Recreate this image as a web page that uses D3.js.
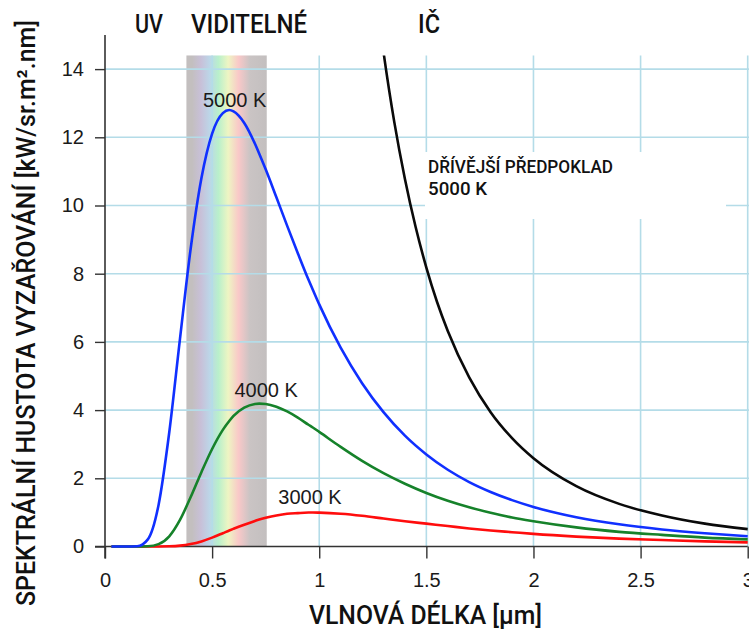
<!DOCTYPE html>
<html><head><meta charset="utf-8">
<script src="https://cdn.jsdelivr.net/npm/d3@7"></script>
<style>
html,body{margin:0;padding:0;background:#fff;}
svg{display:block;}
</style></head>
<body>
<svg id="chart" width="749" height="630"></svg>
<script>
// ---- data ----
const wavelengths = [0.03,0.1,0.15,0.2,0.25,0.3,0.35,0.4,0.45,0.5,0.55,0.58,0.6,0.65,0.7,0.72,0.75,0.8,0.85,0.9,0.95,0.97,1.0,1.1,1.2,1.3,1.4,1.5,1.6,1.7,1.8,1.9,2.0,2.2,2.4,2.6,2.8,3.0];
const t5000 = [0,0,0.007,0.21,1.22,3.35,6.09,8.74,10.80,12.11,12.71,12.80,12.76,12.42,11.81,11.52,11.06,10.24,9.41,8.60,7.82,7.53,7.10,5.83,4.79,3.94,3.25,2.70,2.25,1.89,1.60,1.36,1.16,0.86,0.65,0.50,0.39,0.30];
const t4000 = [0,0,0,0.006,0.069,0.30,0.78,1.45,2.18,2.86,3.42,3.68,3.83,4.07,4.18,4.19,4.18,4.10,3.96,3.78,3.57,3.49,3.36,2.92,2.51,2.15,1.84,1.57,1.34,1.15,0.99,0.85,0.74,0.56,0.43,0.34,0.26,0.21];
const t3000 = [0,0,0,0,0.0006,0.0056,0.025,0.072,0.15,0.26,0.39,0.47,0.52,0.64,0.75,0.79,0.84,0.91,0.96,0.98,0.995,0.996,0.992,0.96,0.90,0.82,0.74,0.67,0.60,0.53,0.47,0.42,0.37,0.29,0.23,0.19,0.15,0.12];
const rjWavelengths = [1.28,1.3,1.35,1.4,1.45,1.5,1.55,1.6,1.7,1.8,1.9,2.0,2.2,2.4,2.6,2.8,3.0];
const rj5000 = [15.42,14.50,12.46,10.78,9.37,8.18,7.17,6.32,4.96,3.94,3.18,2.59,1.77,1.25,0.91,0.67,0.51];

const xTicks = [0,0.5,1,1.5,2,2.5,3];
const xTickLabels = ["0","0.5","1","1.5","2","2.5","3"];
const yTicks = [0,2,4,6,8,10,12,14];
const yTickLabels = ["0","2","4","6","8","10","12","14"];
const visibleBand = [0.38, 0.755];
const plotTop = 14.4;

const regionLabels = ["UV","VIDITELNÉ","IČ"];
const curveLabels = ["5000 K","4000 K","3000 K"];
const xTitle = "VLNOVÁ DÉLKA [µm]";
const yTitle = "SPEKTRÁLNÍ HUSTOTA VYZAŘOVÁNÍ [kW/sr.m².nm]";
const noteLines = ["DŘÍVĚJŠÍ PŘEDPOKLAD","5000 K"];

// ---- scales ----
const svg = d3.select("#chart");
const x = d3.scaleLinear().domain([0,3]).range([105,747.7]);
const y = d3.scaleLinear().domain([0,15]).range([546.5,35]);

const condFont = "Roboto,'DejaVu Sans Condensed',sans-serif";
const condWeight = 500;
const sansFont = "'Liberation Sans',Arial,sans-serif";

// ---- visible spectrum band ----
const defs = svg.append("defs");
const grad = defs.append("linearGradient").attr("id","spec").attr("x1","0").attr("x2","1").attr("y1","0").attr("y2","0");
[[0,"#c3bfbf"],[0.07,"#c3bfbf"],[0.18,"#c8c0d8"],[0.29,"#bcd6e8"],[0.4,"#b9f0cb"],[0.52,"#eef5c3"],[0.65,"#f9c8c8"],[0.79,"#cac4c4"],[1,"#c3bfbf"]]
  .forEach(s=>grad.append("stop").attr("offset",s[0]).attr("stop-color",s[1]));
svg.append("rect")
  .attr("x",x(visibleBand[0])).attr("width",x(visibleBand[1])-x(visibleBand[0]))
  .attr("y",y(plotTop)).attr("height",y(0)-y(plotTop))
  .attr("fill","url(#spec)");

// ---- grid ----
const gridColor = "#b4dce8";
svg.append("g").selectAll("line").data(yTicks.filter(d=>d>0)).join("line")
  .attr("x1",x(0)).attr("x2",749).attr("y1",d=>y(d)).attr("y2",d=>y(d))
  .attr("stroke",gridColor).attr("stroke-width",1.6);
svg.append("g").selectAll("line").data(xTicks.filter(d=>d>0)).join("line")
  .attr("x1",d=>x(d)).attr("x2",d=>x(d)).attr("y1",y(plotTop)).attr("y2",y(0))
  .attr("stroke",gridColor).attr("stroke-width",1.6);

// ---- white note box ----
svg.append("rect").attr("x",425).attr("y",152).attr("width",301).attr("height",67).attr("fill","#fff");

// ---- axes ----
const axisColor = "#333";
const yAxis = d3.axisLeft(y).tickValues(yTicks).tickFormat((d,i)=>yTickLabels[i]).tickSize(10).tickPadding(11).tickSizeOuter(0);
const gy = svg.append("g").attr("transform",`translate(${x(0)},0)`).call(yAxis);
gy.select(".domain").remove();
gy.selectAll("line").attr("stroke",axisColor).attr("stroke-width",1.4);
gy.selectAll("text").attr("font-family",sansFont).attr("font-size",20).attr("fill","#1a1a1a");

const xAxis = d3.axisBottom(x).tickValues(xTicks).tickFormat((d,i)=>xTickLabels[i]).tickSize(12).tickPadding(14).tickSizeOuter(0);
const gx = svg.append("g").attr("transform",`translate(0,${y(0)})`).call(xAxis);
gx.select(".domain").remove();
gx.selectAll("line").attr("stroke",axisColor).attr("stroke-width",1.4);
gx.selectAll("text").attr("font-family",sansFont).attr("font-size",20).attr("fill","#1a1a1a");

svg.append("line").attr("x1",x(0)).attr("x2",x(0)).attr("y1",y(15)).attr("y2",y(0)+12)
  .attr("stroke",axisColor).attr("stroke-width",1.6);
svg.append("line").attr("x1",x(0)-10).attr("x2",x(3)).attr("y1",y(0)).attr("y2",y(0))
  .attr("stroke",axisColor).attr("stroke-width",1.6);

// ---- curves ----
defs.append("clipPath").attr("id","plotClip").append("rect")
  .attr("x",x(0)).attr("y",y(plotTop)).attr("width",749-x(0)).attr("height",y(0)-y(plotTop)+2);
const line = d3.line().x(d=>x(d[0])).y(d=>y(d[1])).curve(d3.curveMonotoneX);
const cg = svg.append("g").attr("clip-path","url(#plotClip)");
const series = [
  {w:wavelengths, v:t3000, c:"#ff0d0d"},
  {w:wavelengths, v:t4000, c:"#16822a"},
  {w:wavelengths, v:t5000, c:"#1030ff"},
  {w:rjWavelengths, v:rj5000, c:"#0a0a0a"}
];
series.forEach(s=>{
  cg.append("path").datum(s.w.map((w,i)=>[w,s.v[i]]))
    .attr("d",line).attr("fill","none").attr("stroke",s.c).attr("stroke-width",2.6)
    .attr("stroke-linejoin","round");
});

// ---- curve labels ----
const curveLabelPos = [[0.605,12.89],[0.752,4.38],[0.957,1.25]];
svg.append("g").selectAll("text").data(curveLabels).join("text")
  .attr("x",(d,i)=>x(curveLabelPos[i][0])).attr("y",(d,i)=>y(curveLabelPos[i][1]))
  .attr("text-anchor","middle").attr("font-family",sansFont).attr("font-size",20).attr("fill","#1a1a1a")
  .text(d=>d);

// ---- region labels ----
const regionPos = [[135,28],[191,116],[418,22]];
svg.append("g").selectAll("text").data(regionLabels).join("text")
  .attr("x",(d,i)=>regionPos[i][0]).attr("y",33)
  .attr("textLength",(d,i)=>regionPos[i][1]).attr("lengthAdjust","spacingAndGlyphs")
  .attr("font-family",condFont).attr("font-weight",condWeight).attr("font-size",25).attr("fill","#111")
  .text(d=>d);

// ---- note ----
const noteLen = [185,59];
svg.append("g").selectAll("text").data(noteLines).join("text")
  .attr("x",428).attr("y",(d,i)=>173+i*22)
  .attr("textLength",(d,i)=>noteLen[i]).attr("lengthAdjust","spacingAndGlyphs")
  .attr("font-family",condFont).attr("font-weight",condWeight).attr("font-size",18.5).attr("fill","#111")
  .text(d=>d);

// ---- axis titles ----
svg.append("text").attr("x",309).attr("y",624)
  .attr("textLength",233).attr("lengthAdjust","spacingAndGlyphs")
  .attr("font-family",condFont).attr("font-weight",condWeight).attr("font-size",25).attr("fill","#111")
  .text(xTitle);
svg.append("text").attr("transform","translate(35,313) rotate(-90)")
  .attr("text-anchor","middle")
  .attr("textLength",586).attr("lengthAdjust","spacingAndGlyphs")
  .attr("font-family",condFont).attr("font-weight",condWeight).attr("font-size",25).attr("fill","#111")
  .text(yTitle);
</script>
</body></html>
